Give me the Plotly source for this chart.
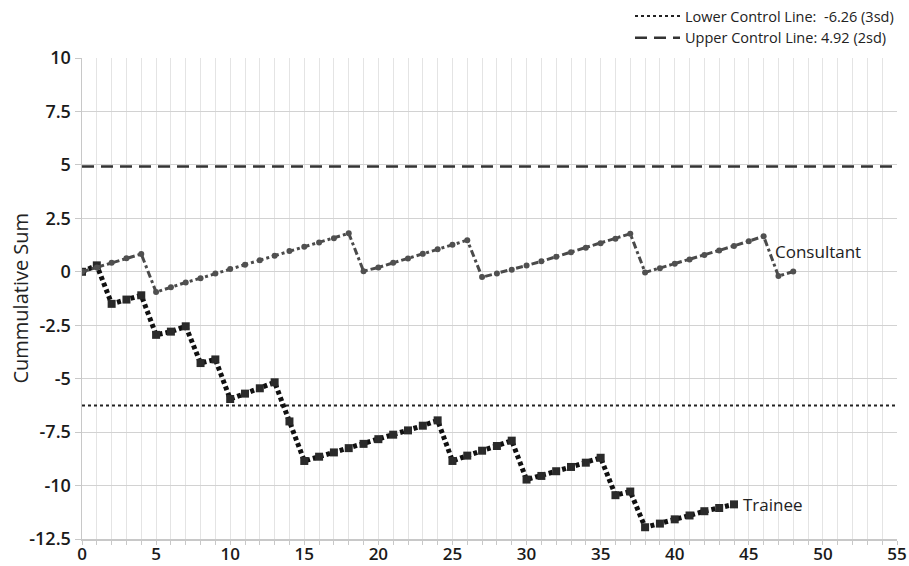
import plotly.graph_objects as go

# ---- data ----
trainee_y = [0, 0.3, -1.5, -1.3, -1.1, -2.95, -2.8, -2.55, -4.27, -4.1,
             -5.95, -5.7, -5.45, -5.17, -7.0, -8.85, -8.65, -8.45, -8.25, -8.05,
             -7.83, -7.62, -7.42, -7.2, -6.95, -8.85, -8.6, -8.37, -8.15, -7.9,
             -9.72, -9.55, -9.33, -9.13, -8.93, -8.7, -10.45, -10.28, -11.95, -11.78,
             -11.58, -11.4, -11.2, -11.05, -10.88]
trainee_x = list(range(len(trainee_y)))

consultant_y = [0, 0.2, 0.42, 0.63, 0.83, -0.95, -0.72, -0.5, -0.3, -0.08,
                0.13, 0.33, 0.54, 0.75, 0.97, 1.17, 1.37, 1.57, 1.8, 0.03,
                0.2, 0.42, 0.62, 0.84, 1.05, 1.26, 1.48, -0.25, -0.08, 0.1,
                0.29, 0.49, 0.7, 0.91, 1.12, 1.33, 1.55, 1.78, -0.03, 0.17,
                0.37, 0.58, 0.79, 1.0, 1.21, 1.43, 1.66, -0.2, 0.01]
consultant_x = list(range(len(consultant_y)))

lower_cl = -6.26
upper_cl = 4.92
x_range = [0, 55]
y_range = [-12.5, 10]
x_ticks = [0, 5, 10, 15, 20, 25, 30, 35, 40, 45, 50, 55]
y_ticks = [10, 7.5, 5, 2.5, 0, -2.5, -5, -7.5, -10, -12.5]
y_title = "Cummulative Sum"

FONT = "Open Sans"

fig = go.Figure()

fig.add_trace(go.Scatter(
    x=x_range, y=[lower_cl, lower_cl], mode="lines",
    name="Lower Control Line:\u00a0 %s (3sd)" % lower_cl,
    line=dict(color="#222222", width=2, dash="3px,3px"),
    hoverinfo="skip"))
fig.add_trace(go.Scatter(
    x=x_range, y=[upper_cl, upper_cl], mode="lines",
    name="Upper Control Line: %s (2sd)" % upper_cl,
    line=dict(color="#333333", width=2.5, dash="12px,7px"),
    hoverinfo="skip"))

fig.add_trace(go.Scatter(
    x=trainee_x, y=trainee_y, mode="lines+markers", name="Trainee",
    showlegend=False,
    line=dict(color="#111111", width=5, dash="4px,3px"),
    marker=dict(symbol="square", size=8, color="#2a2a2a")))

fig.add_trace(go.Scatter(
    x=consultant_x, y=consultant_y, mode="lines+markers", name="Consultant",
    showlegend=False,
    line=dict(color="#4a4a4a", width=3, dash="7px,3px,3px,3px"),
    marker=dict(symbol="circle", size=6, color="#505050")))

fig.add_annotation(x=consultant_x[-3] + 0.6, y=0.95, text="Consultant",
                   showarrow=False, xanchor="left", yanchor="middle",
                   font=dict(family=FONT, size=17, color="#222222"))
fig.add_annotation(x=trainee_x[-1] + 0.45, y=trainee_y[-1], text="Trainee",
                   showarrow=False, xanchor="left", yanchor="middle",
                   font=dict(family=FONT, size=17, color="#222222"))

# y-axis title placed as a rotated annotation (x in paper units left of the plot)
fig.add_annotation(xref="paper", yref="paper", x=-0.076, y=0.5,
                   text=y_title, textangle=-90, showarrow=False,
                   xanchor="center", yanchor="middle",
                   font=dict(family=FONT, size=20, color="#222222"))

fig.update_layout(
    width=909, height=566,
    margin=dict(l=82, r=12, t=58, b=27, autoexpand=False),
    paper_bgcolor="white", plot_bgcolor="white",
    font=dict(family=FONT, color="#222222"),
    showlegend=True,
    legend=dict(
        xref="container", yref="container",
        x=0.989, y=1.002, xanchor="right", yanchor="top",
        bgcolor="rgba(0,0,0,0)", borderwidth=0,
        font=dict(family=FONT, size=14.5, color="#222222"),
        itemwidth=45, tracegroupgap=0),
    xaxis=dict(
        range=x_range, tickvals=x_ticks,
        showgrid=True, gridcolor="#e4e4e4", gridwidth=1,
        showline=True, linecolor="#c8c8c8", linewidth=1.5,
        ticks="outside", ticklen=4, tickcolor="#c8c8c8",
        ticklabelstandoff=-5,
        zeroline=False,
        tickfont=dict(family=FONT, size=17, color="#1a1a1a", weight=600),
        minor=dict(dtick=1, showgrid=True, gridcolor="#e4e4e4",
                   ticks="outside", ticklen=4, tickcolor="#c8c8c8"),
        fixedrange=True),
    yaxis=dict(
        range=y_range, tickvals=y_ticks,
        ticktext=["%g" % v for v in y_ticks],
        showgrid=True, gridcolor="#d2d2d2", gridwidth=1.2,
        showline=True, linecolor="#c8c8c8", linewidth=1.5,
        ticks="outside", ticklen=6, tickcolor="#c8c8c8",
        zeroline=False,
        tickfont=dict(family=FONT, size=18, color="#1a1a1a", weight=600),
        fixedrange=True),
)

fig.write_html("out.html",
               config={"displayModeBar": False, "staticPlot": True},
               post_script="document.body.style.margin='0px';"
                           "document.body.style.overflow='hidden';")
